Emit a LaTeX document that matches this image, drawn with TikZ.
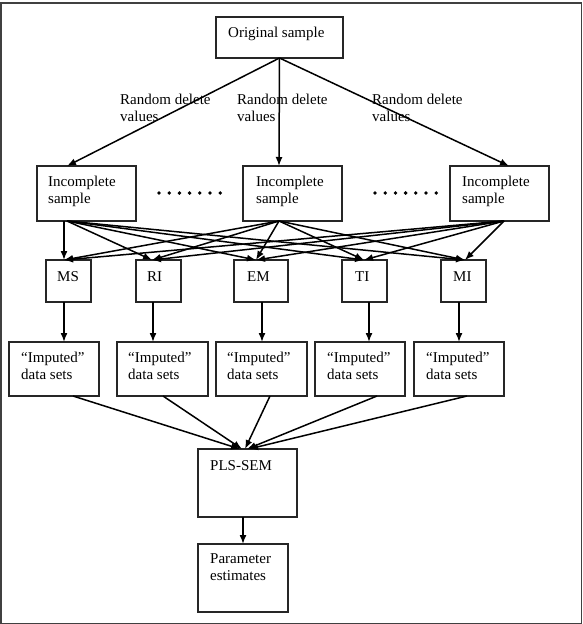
\documentclass[tikz,border=0pt]{standalone}
\usepackage{fontspec}
\setmainfont{Liberation Serif}
\usetikzlibrary{arrows.meta}
\begin{document}
\begin{tikzpicture}[x=1pt,y=-1pt,
  box/.style={draw=black!85,line width=1.4pt,inner sep=0pt},
  txt/.style={inner sep=0pt,anchor=base west,align=left,font=\fontsize{15}{17.5}\selectfont},
  arr/.style={line width=1.5pt,-{Latex[length=9pt,width=7pt]}},
  ln/.style={line width=1.5pt}]
\useasboundingbox (0,0) rectangle (583,624);
\draw[draw=black!75,line width=1.6pt] (1,3) rectangle (581.5,623.5);
% boxes
\node[box,minimum width=127,minimum height=41] (orig) at (279.5,37.5) {};
\node[box,minimum width=99,minimum height=55] (inc1) at (86.5,193.5) {};
\node[box,minimum width=99,minimum height=55] (inc2) at (292.5,193.5) {};
\node[box,minimum width=99,minimum height=55] (inc3) at (499.5,193.5) {};
\node[box,minimum width=45,minimum height=42] (ms) at (68.5,281) {};
\node[box,minimum width=45,minimum height=42] (ri) at (158.5,281) {};
\node[box,minimum width=54,minimum height=42] (em) at (261,281) {};
\node[box,minimum width=45,minimum height=42] (ti) at (364.5,281) {};
\node[box,minimum width=45,minimum height=42] (mi) at (463.5,281) {};
\node[box,minimum width=90,minimum height=54] (imp1) at (54,369) {};
\node[box,minimum width=91,minimum height=54] (imp2) at (162.5,369) {};
\node[box,minimum width=91,minimum height=54] (imp3) at (261.5,369) {};
\node[box,minimum width=90,minimum height=54] (imp4) at (360,369) {};
\node[box,minimum width=90,minimum height=54] (imp5) at (459,369) {};
\node[box,minimum width=99,minimum height=68] (pls) at (247.5,483) {};
\node[box,minimum width=90,minimum height=68] (par) at (243,578) {};
% texts (base anchor = last line)
\node[txt] (torig) at (228,37) {Original sample};
\node[txt] (tr1) at (120,121.5) {Random delete\\values};
\node[txt] (tr2) at (237,121.5) {Random delete\\values};
\node[txt] (tr3) at (372,121.5) {Random delete\\values};
\node[txt] (ti1) at (48,203.5) {Incomplete\\sample};
\node[txt] (ti2) at (256,203.5) {Incomplete\\sample};
\node[txt] (ti3) at (462,203.5) {Incomplete\\sample};
\node[txt] (tms) at (57,281) {MS};
\node[txt] (tri) at (147,281) {RI};
\node[txt] (tem) at (247,281) {EM};
\node[txt] (tti) at (355,281) {TI};
\node[txt] (tmi) at (453,281) {MI};
\node[txt] (tim1) at (21,379.5) {“Imputed”\\data sets};
\node[txt] (tim2) at (128,379.5) {“Imputed”\\data sets};
\node[txt] (tim3) at (227,379.5) {“Imputed”\\data sets};
\node[txt] (tim4) at (327,379.5) {“Imputed”\\data sets};
\node[txt] (tim5) at (426,379.5) {“Imputed”\\data sets};
\node[txt] (tpls) at (210,470) {PLS-SEM};
\node[txt] (tpar) at (210,580.5) {Parameter\\estimates};
% dots
\foreach \i in {0,...,6}{
  \fill (159+10.2*\i,193) circle (1.9);
  \fill (375+10.2*\i,193) circle (1.9);
}
% anchor points
\coordinate (o) at (279.5,58);
\coordinate (i1t) at (67,166);
\coordinate (i2t) at (279,166);
\coordinate (i3t) at (509,166);
\coordinate (s1a) at (64,221);
\coordinate (s1) at (67,221);
\coordinate (s2) at (279,221);
\coordinate (s3) at (504,221);
\coordinate (tMS) at (64,260);
\coordinate (tRI) at (152,260);
\coordinate (tEM) at (256,260);
\coordinate (tTI) at (364,260);
\coordinate (tMI) at (465,260);
\coordinate (bMS) at (64,302);
\coordinate (bRI) at (153,302);
\coordinate (bEM) at (262,302);
\coordinate (bTI) at (369,302);
\coordinate (bMI) at (459,302);
\coordinate (uMS) at (64,342);
\coordinate (uRI) at (153,342);
\coordinate (uEM) at (262,342);
\coordinate (uTI) at (369,342);
\coordinate (uMI) at (459,342);
\coordinate (d1) at (73,396);
\coordinate (d2) at (163,396);
\coordinate (d3) at (270,396);
\coordinate (d4) at (377,396);
\coordinate (d5) at (467,396);
\coordinate (p1) at (240,449);
\coordinate (p2) at (242,449);
\coordinate (p3) at (245,449);
\coordinate (p4) at (247,449);
\coordinate (p5) at (249,449);
\coordinate (pb) at (243,517);
\coordinate (pt) at (243,544);
% connectors
\draw[arr] (o) -- (i1t);
\draw[arr] (o) -- (i2t);
\draw[arr] (o) -- (i3t);
\draw[arr] (s1a) -- (tMS);
\foreach \t in {tRI,tEM,tTI,tMI} \draw[arr] (s1) -- (\t);
\foreach \t in {tMS,tRI,tEM,tTI,tMI} \draw[arr] (s2) -- (\t);
\foreach \t in {tMS,tRI,tEM,tTI,tMI} \draw[arr] (s3) -- (\t);
\draw[arr] (bMS) -- (uMS);
\draw[arr] (bRI) -- (uRI);
\draw[arr] (bEM) -- (uEM);
\draw[arr] (bTI) -- (uTI);
\draw[arr] (bMI) -- (uMI);
\draw[arr] (d1) -- (p1);
\draw[arr] (d2) -- (p2);
\draw[arr] (d3) -- (p3);
\draw[arr] (d4) -- (p4);
\draw[arr] (d5) -- (p5);
\draw[arr] (pb) -- (pt);
\end{tikzpicture}
\end{document}
